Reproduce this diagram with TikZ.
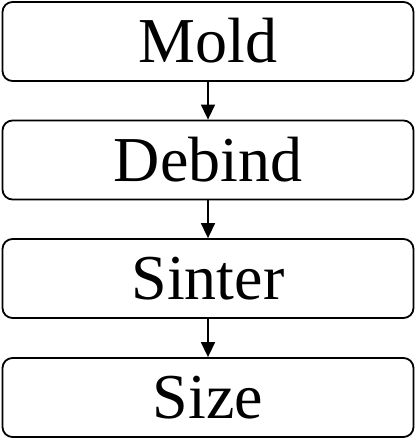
\documentclass[tikz,border=0pt]{standalone}
\usepackage{fontspec}
\setmainfont{Liberation Serif}
\usetikzlibrary{arrows.meta}
\begin{document}
\begin{tikzpicture}[x=1pt,y=1pt,
  stepbox/.style={draw, line width=1.8pt, rounded corners=10pt, minimum width=411pt, minimum height=79pt, inner sep=0pt, text height=42pt, text depth=0pt, font=\fontsize{64}{64}\selectfont},
  flow/.style={line width=1.6pt, -{Triangle[width=14pt,length=15pt]}}]
\useasboundingbox (0,0) rectangle (416,-440);
\node[stepbox] (mold) at (208,-41.5) {Mold};
\node[stepbox] (debind) at (208,-160) {Debind};
\node[stepbox] (sinter) at (208,-278.5) {Sinter};
\node[stepbox] (size) at (208,-397.5) {Size};
\draw[flow] (mold) -- (debind);
\draw[flow] (debind) -- (sinter);
\draw[flow] (sinter) -- (size);
\end{tikzpicture}
\end{document}
